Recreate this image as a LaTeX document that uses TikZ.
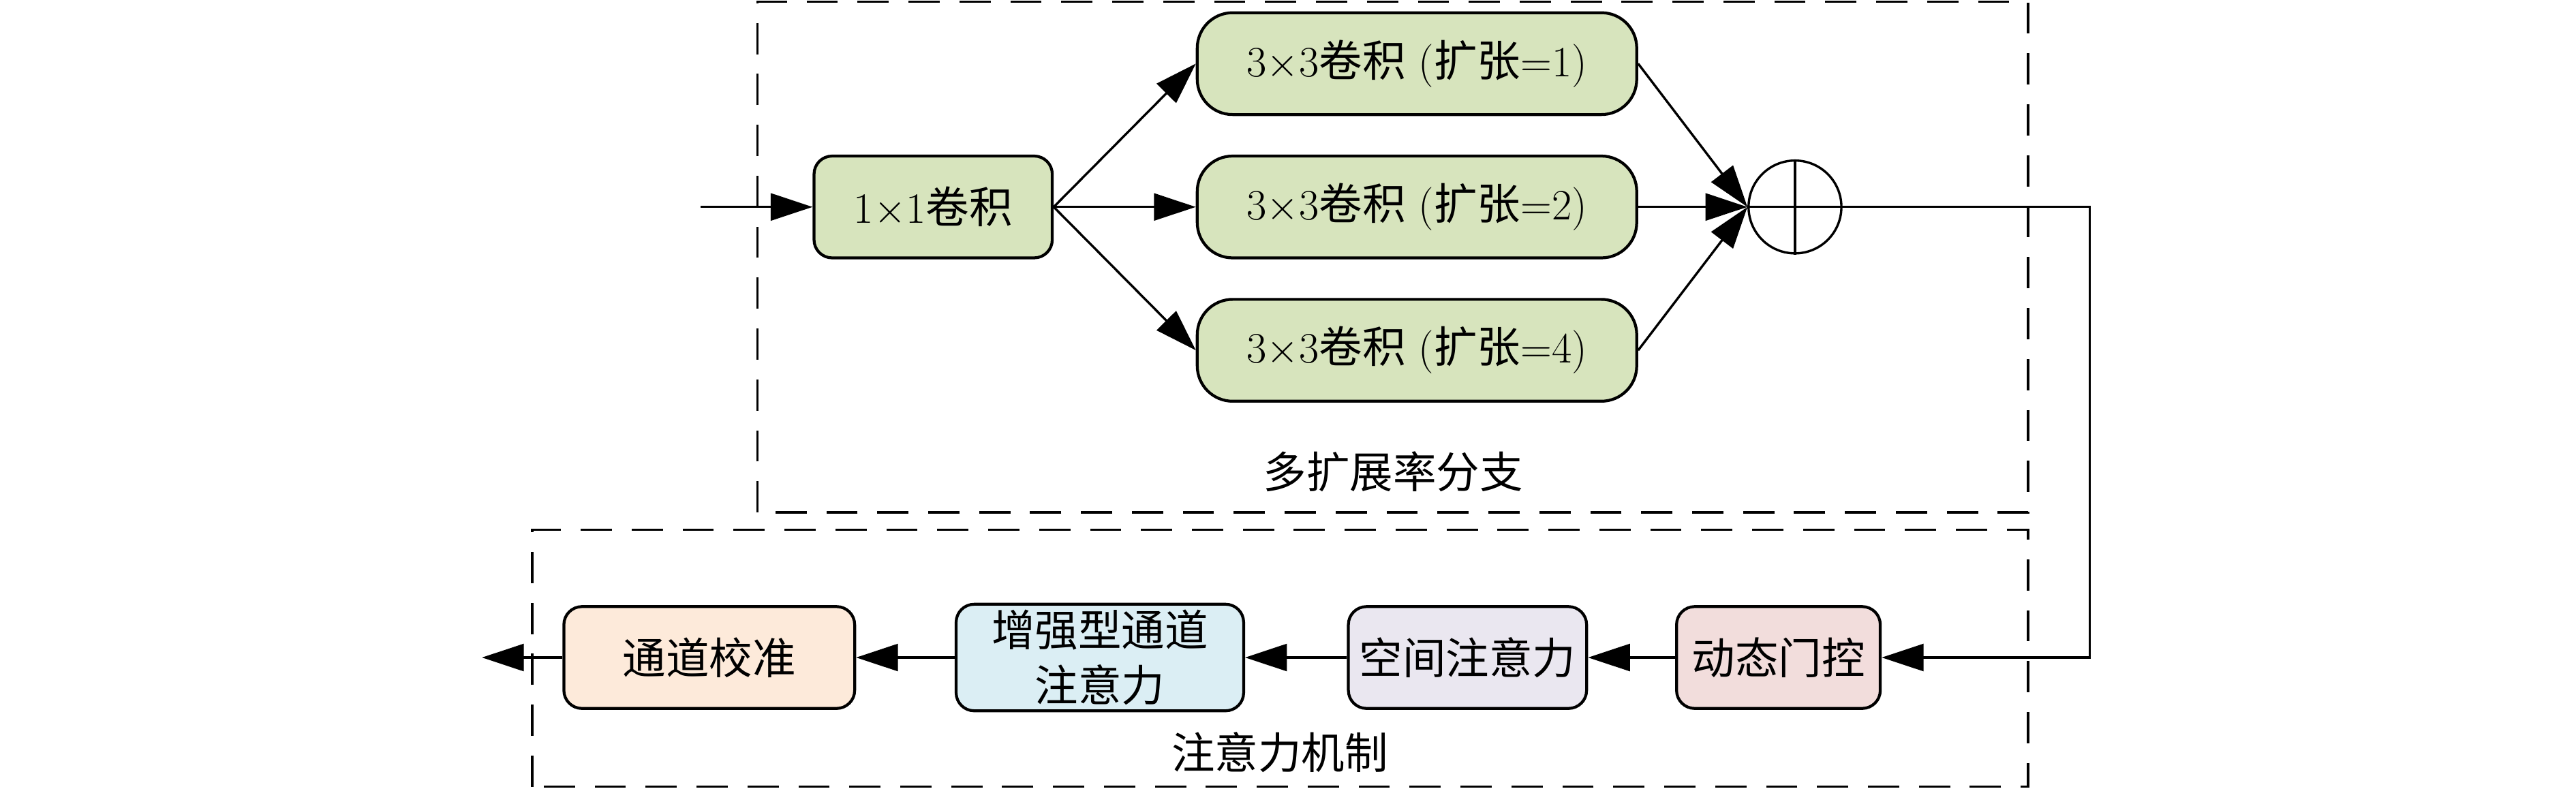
\documentclass[tikz,border=0pt]{standalone}
\usepackage{fontspec}
\usepackage{tikz}
\usetikzlibrary{arrows.meta,positioning}
\newfontfamily\cjk{Noto Sans CJK SC}
\definecolor{BranchGreen}{RGB}{215,228,189}
\definecolor{GatePink}{RGB}{242,221,220}
\definecolor{SpatialLilac}{RGB}{234,231,240}
\definecolor{ChannelBlue}{RGB}{219,238,244}
\definecolor{CalibPeach}{RGB}{253,234,218}

\begin{document}
\begin{tikzpicture}[
    box/.style={draw, line width=1pt, rounded corners=0.22cm, minimum height=1.24cm,
                align=center, inner sep=2pt, font=\fontsize{15pt}{19pt}\selectfont},
    wide/.style={box, rounded corners=0.43cm, minimum width=5.35cm, fill=BranchGreen},
    arr/.style={-{Triangle[length=0.51cm, width=0.33cm]}, line width=0.8pt},
    region/.style={draw, line width=0.8pt, dash pattern=on 0.38cm off 0.24cm},
    lbl/.style={font=\fontsize{15pt}{19pt}\selectfont},
    node distance=0.47cm
]
    \useasboundingbox (0,0) rectangle (31.36,9.6);

    % dashed regions
    \draw[region] (9.22,3.36) rectangle (24.69,9.58);
    \draw[region] (6.48,0.02) rectangle (24.69,3.15);

    % branch part
    \node[box, fill=BranchGreen, minimum width=2.9cm] at (11.36,7.08) (conv1) {1$\times$1{\cjk 卷积}};
    \node[wide, right=1.73cm of conv1]  (dil2) {3$\times$3{\cjk 卷积} ({\cjk 扩张}=2)};
    \node[wide, above=of dil2]  (dil1) {3$\times$3{\cjk 卷积} ({\cjk 扩张}=1)};
    \node[wide, below=of dil2]  (dil4) {3$\times$3{\cjk 卷积} ({\cjk 扩张}=4)};
    \node[circle, draw, line width=0.8pt, minimum size=1.13cm, inner sep=0pt,
          right=1.33cm of dil2] (sum) {};
    \draw[line width=0.8pt] (sum.north) -- (sum.south);
    \draw[line width=0.8pt] (sum.west) -- (sum.east);
    \coordinate[left=1.36cm of conv1] (in);
    \node[lbl] at (16.96,3.86) (lblbranch) {\cjk 多扩展率分支};

    % attention part
    \node[box, fill=GatePink, minimum width=2.48cm] at (21.65,1.594) (gate) {\cjk 动态门控};
    \node[box, fill=SpatialLilac, minimum width=2.9cm, left=1.06cm of gate] (spatial) {\cjk 空间注意力};
    \node[box, fill=ChannelBlue, minimum width=3.5cm, left=1.24cm of spatial] (chan) {\cjk 增强型通道\\\cjk 注意力};
    \node[box, fill=CalibPeach, minimum width=3.54cm, left=1.2cm of chan] (calib) {\cjk 通道校准};
    \coordinate[left=0.98cm of calib] (out);
    \coordinate (rside) at (25.44,0);
    \node[lbl] at (15.58,0.44) (lblattn) {\cjk 注意力机制};

    \draw[arr] (in) -- (conv1);
    \draw[arr] (conv1.east) -- (dil1.west);
    \draw[arr] (conv1.east) -- (dil2.west);
    \draw[arr] (conv1.east) -- (dil4.west);
    \draw[arr] (dil1.east) -- (sum.west);
    \draw[arr] (dil2.east) -- (sum.west);
    \draw[arr] (dil4.east) -- (sum.west);
    \draw[arr] (sum.east) -- (sum.east -| rside) |- (gate.east);
    \draw[arr] (gate) -- (spatial);
    \draw[arr] (spatial) -- (chan);
    \draw[arr] (chan) -- (calib);
    \draw[arr] (calib) -- (out);
\end{tikzpicture}
\end{document}
